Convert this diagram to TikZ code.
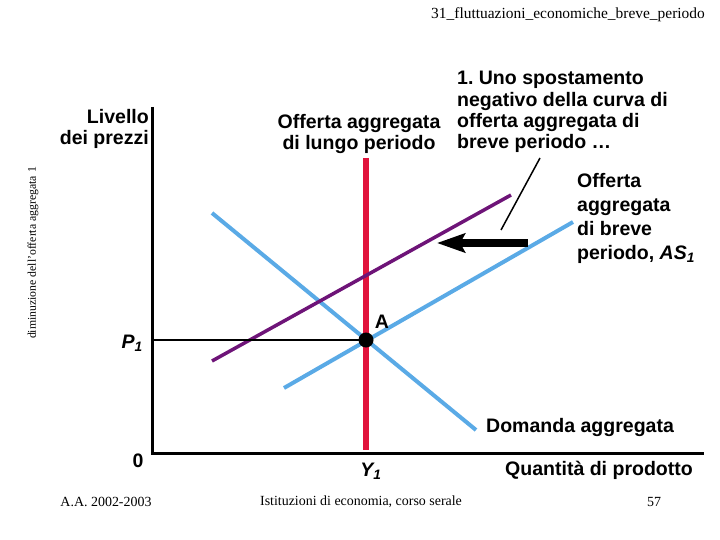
\documentclass[tikz,border=0pt]{standalone}
\usepackage{fontspec}
\setmainfont{Liberation Serif}
\setsansfont{Liberation Sans}
\usetikzlibrary{arrows.meta}
\frenchspacing

\definecolor{blucurva}{RGB}{90,170,230}
\definecolor{violacurva}{RGB}{110,20,120}
\definecolor{rossocurva}{RGB}{225,20,60}

\begin{document}
\begin{tikzpicture}[x=1bp, y=-1bp,
    % --- stili ---
    asse/.style={line width=3bp},
    curva/.style={line width=4bp},
    testo/.style={font=\sffamily\bfseries\fontsize{19.6}{21.5}\selectfont, inner sep=0pt},
    testoAS/.style={font=\sffamily\bfseries\fontsize{19.6}{24}\selectfont, inner sep=0pt},
    nota/.style={font=\fontsize{14}{16}\selectfont, inner sep=0pt}
]
    \useasboundingbox (0,0) rectangle (720,540);

    % =========================================
    % intestazione e piè di pagina
    % =========================================
    \node[nota, font=\fontsize{15.5}{17}\selectfont, anchor=east] (titolo) at (705,15)
        {31\_fluttuazioni\_economiche\_breve\_periodo};
    \node[nota] (anno)  at (106,502) {A.A. 2002-2003};
    \node[nota] (corso) at (361,502) {Istituzioni di economia, corso serale};
    \node[nota] (pag)   at (654,502) {57};
    \node[nota, font=\fontsize{11.8}{13}\selectfont, rotate=90] (margine) at (33,253)
        {diminuzione dell'offerta aggregata 1};

    % =========================================
    % coordinate
    % =========================================
    \coordinate (O)     at (152,453);   % origine
    \coordinate (Ytop)  at (152,107);
    \coordinate (Xend)  at (704,453);
    \coordinate (A)     at (366,340);   % equilibrio
    \coordinate (P_ax)  at (152,340);
    \coordinate (LR_top) at (366,158);  % offerta di lungo periodo
    \coordinate (LR_bot) at (366,450);
    \coordinate (AD_in)  at (212,213);  % domanda aggregata
    \coordinate (AD_out) at (476,430);
    \coordinate (AS_in)  at (284,388);  % AS1
    \coordinate (AS_out) at (573,222);
    \coordinate (AS2_in)  at (212,361); % AS2 (spostata)
    \coordinate (AS2_out) at (511,195);
    \coordinate (fr_da) at (528,243);   % freccia dello spostamento
    \coordinate (fr_a)  at (437,243);
    \coordinate (rif_da) at (540,158);  % linea di richiamo
    \coordinate (rif_a)  at (501,230);

    % --- curve ---
    \draw[rossocurva, line width=5.5bp] (LR_top) -- (LR_bot);
    \draw[curva, blucurva] (AD_in) -- (AD_out);
    \draw[curva, blucurva] (AS_in) -- (AS_out);
    \draw[violacurva, line width=3.5bp] (AS2_in) -- (AS2_out);

    % --- assi ---
    \draw[asse] (Ytop) -- (O) -- (Xend);
    \draw[line width=1.5bp] (P_ax) -- (A);

    % --- freccia e richiamo ---
    \draw[line width=7.5bp, -{Stealth[length=28bp, width=19bp, inset=5bp]}] (fr_da) -- (fr_a);
    \draw[line width=1.5bp] (rif_da) -- (rif_a);

    % --- punto A ---
    \fill (A) circle (7.5bp);

    % =========================================
    % etichette
    % =========================================
    \node[testo, anchor=north east, align=right] (prezzi) at (149,109) {Livello\\dei prezzi};
    \node[testo, anchor=north, align=center] (LRAS) at (359,114)
        {Offerta aggregata\\di lungo periodo};
    \node[testo, anchor=north west, align=left] (spost) at (457,71)
        {1. Uno spostamento\\negativo della curva di\\offerta aggregata di\\breve periodo …};
    \node[testoAS, anchor=north west, align=left] (AS1) at (577,173)
        {Offerta\\aggregata\\di breve\\periodo, \textit{AS\textsubscript{1}}};
    \node[testo, anchor=west] (AD) at (486,427) {Domanda aggregata};
    \node[testo, anchor=west] (quant) at (505,470) {Quantità di prodotto};
    \node[testo, anchor=east] (P1) at (143,343) {\textit{P\textsubscript{1}}};
    \node[testo] (Y1) at (371,471) {\textit{Y\textsubscript{1}}};
    \node[testo] (lblA) at (382,322) {A};
    \node[testo] (zero) at (138,461) {0};

\end{tikzpicture}
\end{document}
